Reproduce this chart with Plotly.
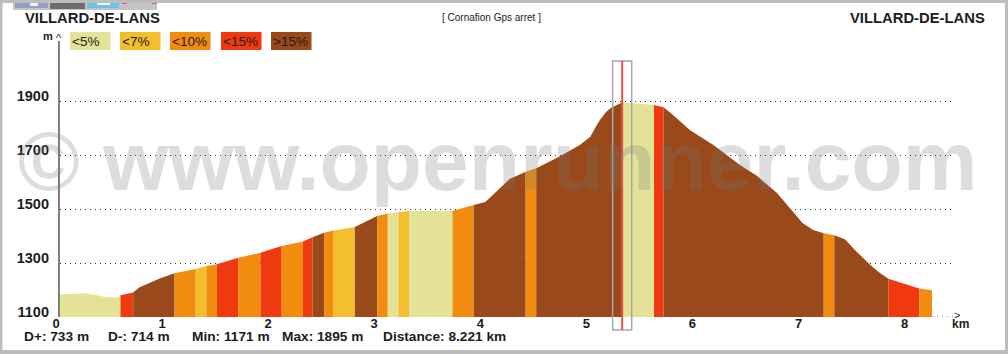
import plotly.graph_objects as go

km = [0, .09, .24, .35, .42, .55, .57, .69, .75, .94, 1.08, 1.28, 1.38, 1.48, 1.68, 1.89, 2.09, 2.29, 2.38, 2.49,
      2.58, 2.78, 2.99, 3.09, 3.19, 3.29, 3.70, 3.90, 4.01, 4.24, 4.39, 4.49, 4.71, 4.90, 5.00, 5.045, 5.09, 5.15,
      5.20, 5.25, 5.30, 5.40, 5.60, 5.69, 5.78, 5.94, 6.16, 6.41, 6.57, 6.76, 6.91, 7.00, 7.10, 7.20, 7.30, 7.40,
      7.51, 7.64, 7.73, 7.81, 8.10, 8.221]
elev = [1183, 1185, 1188, 1181, 1174, 1172, 1181, 1191, 1210, 1243, 1262, 1278, 1289, 1295, 1319, 1338, 1363, 1380,
        1395, 1412, 1420, 1433, 1474, 1483, 1489, 1493, 1493, 1515, 1526, 1611, 1638, 1651, 1694, 1737, 1768, 1800,
        1830, 1860, 1876, 1885, 1894, 1892, 1885, 1877, 1848, 1792, 1737, 1663, 1623, 1559, 1490, 1448, 1422, 1410,
        1403, 1388, 1342, 1293, 1263, 1242, 1206, 1199]
seg_end = [.57, .69, 1.08, 1.28, 1.38, 1.48, 1.68, 1.89, 2.09, 2.29, 2.38, 2.49, 2.58, 2.78, 2.99, 3.09, 3.19, 3.29,
           3.70, 3.90, 4.39, 4.49, 5.30, 5.60, 5.69, 7.20, 7.30, 7.81, 8.10, 8.221]
seg_class = [0, 3, 4, 2, 1, 2, 3, 2, 3, 2, 3, 4, 2, 1, 4, 2, 0, 1, 0, 2, 4, 2, 4, 0, 3, 4, 2, 4, 3, 2]
class_names = ["<5%", "<7%", "<10%", "<15%", ">15%"]
class_colors = ["#e3e296", "#f4bf2e", "#f28c0e", "#ee3a0e", "#99491a"]
x_ticks = [0, 1, 2, 3, 4, 5, 6, 7, 8]
y_ticks = [1100, 1300, 1500, 1700, 1900]
cursor_km = 5.30
cursor_half = 0.09

W, H = 1008, 354
L, R, T, B = 60, 953, 40, 317
FONT = "Liberation Sans"
DARK = "#1c1c1c"


def px(x):
    return (x - L) / (R - L)


def py(y):
    return 1 - (y - T) / (B - T)


fig = go.Figure()
start = 0
for end, cls in zip(seg_end, seg_class):
    xs = [k for k in km if start <= k <= end]
    ys = [e for k, e in zip(km, elev) if start <= k <= end]
    fig.add_trace(go.Scatter(x=xs, y=ys, mode="lines", line=dict(width=0), fill="tozeroy",
                             fillcolor=class_colors[cls], hoverinfo="skip", showlegend=False))
    start = end

shapes = []
# dotted line continuing the base at the right of the profile
shapes.append(dict(type="line", xref="x", yref="y", x0=8.221, x1=8.42, y0=1100, y1=1100,
                   line=dict(color="#333333", width=1, dash="1px 4px")))
# cursor
shapes.append(dict(type="rect", xref="x", yref="paper", x0=cursor_km - cursor_half, x1=cursor_km + cursor_half,
                   y0=py(330), y1=py(61), line=dict(color="#a8a8a8", width=1.5), fillcolor="rgba(0,0,0,0)"))
shapes.append(dict(type="line", xref="x", yref="paper", x0=cursor_km, x1=cursor_km,
                   y0=py(330), y1=py(61), line=dict(color="#e8524a", width=2)))
# y axis
shapes.append(dict(type="line", xref="paper", yref="paper", x0=px(59), x1=px(59), y0=py(317), y1=py(41),
                   line=dict(color="#555555", width=1.5)))
# clipped toolbar icons at the top
for x0, x1, y1, c in [(13, 157, 10, "#c4c4c4"), (15, 48, 8, "#8fa0c4"), (30, 38, 6, "#eef2f8"), (50, 85, 9, "#6c6c6c"),
                      (87, 119, 8, "#69c4e6"), (97, 110, 5, "#eefafd"), (122, 127, 4, "#d8605c"),
                      (152, 157, 4, "#d8605c")]:
    shapes.append(dict(type="rect", xref="paper", yref="paper", x0=px(x0), x1=px(x1), y0=py(y1), y1=py(0),
                       line=dict(width=0), fillcolor=c))
# page frame
for x0, y0, x1, y1 in [(0, 0, W, 3), (0, 350, W, H), (0, 0, 2.5, H), (1005, 0, W, H)]:
    shapes.append(dict(type="rect", xref="paper", yref="paper", x0=px(x0), x1=px(x1), y0=py(y1), y1=py(y0),
                       line=dict(width=0), fillcolor="#bdbdbd"))
# legend boxes
leg_x = [70, 120, 170, 221, 271]
for lx, c in zip(leg_x, class_colors):
    shapes.append(dict(type="rect", xref="paper", yref="paper", x0=px(lx), x1=px(lx + 40.5), y0=py(50), y1=py(32),
                       line=dict(width=0), fillcolor=c))

ann = []


def text(x, y, s, size=12, bold=False, anchor="left", color=DARK):
    ann.append(dict(xref="paper", yref="paper", x=px(x), y=py(y), text=s, showarrow=False, xanchor=anchor,
                    yanchor="middle", xshift=0, borderpad=0,
                    font=dict(family=FONT, size=size, color=color, weight=700 if bold else 400)))


for lx, name in zip(leg_x, class_names):
    text(lx + 1, 41, name.replace("<", "&lt;").replace(">", "&gt;"), size=13.5)
text(24, 18, "VILLARD-DE-LANS", size=14.8, bold=True)
text(986, 18, "VILLARD-DE-LANS", size=14.8, bold=True, anchor="right")
text(441, 18, "[ Cornafion Gps arret ]", size=10)
text(42, 36, "m", size=11, bold=True)
text(59, 38, "^", size=11, anchor="center")
text(953, 315, "&gt;", size=11)
text(951, 324, "km", size=12, bold=True)
text(23, 336, "D+: 733 m", size=13.7, bold=True)
text(107, 336, "D-: 714 m", size=13.7, bold=True)
text(191, 336, "Min: 1171 m", size=13.7, bold=True)
text(281, 336, "Max: 1895 m", size=13.7, bold=True)
text(382, 336, "Distance: 8.221 km", size=13.7, bold=True)
# watermark
ann.append(dict(xref="paper", yref="paper", x=px(498), y=py(161), text="© www.openrunner.com", showarrow=False,
                xanchor="center", yanchor="middle",
                font=dict(family=FONT, size=84, color="rgba(120,120,120,0.25)", weight=700)))

fig.update_layout(
    width=W, height=H, autosize=False,
    margin=dict(l=L, r=W - R, t=T, b=H - B),
    paper_bgcolor="white", plot_bgcolor="white",
    shapes=shapes, annotations=ann, showlegend=False,
    xaxis=dict(range=[0, (R - L) / 106.07], tickmode="array", tickvals=x_ticks, ticks="", showgrid=False,
               zeroline=False, showline=False, ticklabelshift=-4, ticklabelstandoff=-3,
               tickfont=dict(family=FONT, size=13, color=DARK, weight=700)),
    yaxis=dict(range=[1100, 1100 + (B - T) / 0.27], tickmode="array", tickvals=y_ticks, ticks="",
               showgrid=True, griddash="1px 4px", gridcolor="#333333", gridwidth=1, zeroline=False, showline=False,
               ticklabelshift=-5, ticklabelstandoff=10,
               tickfont=dict(family=FONT, size=14.5, color=DARK, weight=700)),
)
fig.write_html("out.html", config=dict(displayModeBar=False), post_script="document.body.style.margin='0';document.body.style.overflow='hidden';")
